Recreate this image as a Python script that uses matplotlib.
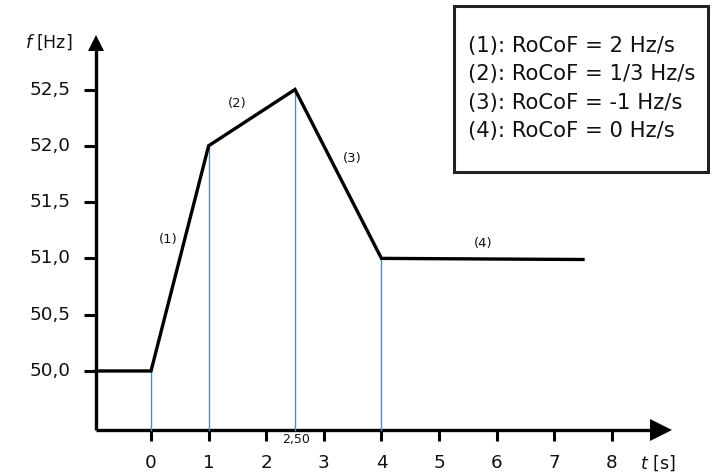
import matplotlib.pyplot as plt
from matplotlib.patches import Rectangle

plt.rcParams['font.family'] = ['DejaVu Sans']
plt.rcParams['mathtext.fontset'] = 'dejavusans'

# curve points (t in s, f in Hz)
t_pts = [-0.955, 0, 1, 2.5, 4, 7.5]
f_pts = [50.0, 50.0, 52.0, 52.5, 51.0, 50.99]

# vertical guide lines
guide_t = [0, 1, 2.5, 4]
guide_f = [50.0, 52.0, 52.5, 51.0]

x_ticks = [0, 1, 2, 3, 4, 5, 6, 7, 8]
y_ticks = [50.0, 50.5, 51.0, 51.5, 52.0, 52.5]
y_labels = ['50,0', '50,5', '51,0', '51,5', '52,0', '52,5']

seg_labels = ['(1)', '(2)', '(3)', '(4)']
seg_pos = [(0.3, 51.17), (1.49, 52.38), (3.5, 51.89), (5.76, 51.13)]

legend_lines = ['(1): RoCoF = 2 Hz/s', '(2): RoCoF = 1/3 Hz/s',
                '(3): RoCoF = -1 Hz/s', '(4): RoCoF = 0 Hz/s']

x0 = -0.955      # position of the f axis
y0 = 49.476      # position of the t axis

fig = plt.figure(figsize=(7.18, 4.75), dpi=100)
ax = fig.add_axes([0, 0, 1, 1])
ax.set_xlim(-2.622, 9.844)
ax.set_ylim(49.076, 53.295)
ax.axis('off')

# axes with arrow heads
ax.plot([x0, x0], [y0, 52.9], color='black', lw=2.4, solid_capstyle='butt')
ax.plot([x0, 8.85], [y0, y0], color='black', lw=2.4, solid_capstyle='butt')
ax.plot([x0], [52.91], marker='^', ms=12, color='black', mew=0)
ax.plot([8.86], [y0], marker='>', ms=15.5, color='black', mew=0)

# ticks
for t in x_ticks:
    ax.plot([t, t], [y0, y0 - 0.1], color='black', lw=2.2, solid_capstyle='butt')
    ax.text(t, 49.183, str(t), ha='center', va='center', fontsize=13.2, color='#111111')
for f, lab in zip(y_ticks, y_labels):
    ax.plot([x0 - 0.21, x0], [f, f], color='black', lw=2.2, solid_capstyle='butt')
    ax.text(-1.40, f, lab, ha='right', va='center', fontsize=13.2, color='#111111')

ax.text(-1.77, 52.92, r'$f$ [Hz]', ha='center', va='center', fontsize=12.5, color='#111111')
ax.text(8.79, 49.183, r'$t$ [s]', ha='center', va='center', fontsize=12.5, color='#111111')
ax.text(2.51, 49.387, '2,50', ha='center', va='center', fontsize=9, color='#111111')

# blue guides
for t, f in zip(guide_t, guide_f):
    ax.plot([t, t], [y0, f], color='#2f92ff', lw=1.0)

# curve
ax.plot(t_pts, f_pts, color='black', lw=2.4, solid_joinstyle='miter')

for lab, (t, f) in zip(seg_labels, seg_pos):
    ax.text(t, f, lab, ha='center', va='center', fontsize=9.5, color='#111111')

# legend box
ax.add_patch(Rectangle((5.26, 51.77), 4.41, 1.47, fill=False,
                       edgecolor='#222222', lw=2.2))
for i, line in enumerate(legend_lines):
    ax.text(5.50, 52.886 - i * 0.252, line, ha='left', va='center',
            fontsize=15.2, color='#111111')

fig.savefig('out.png', dpi=100)
